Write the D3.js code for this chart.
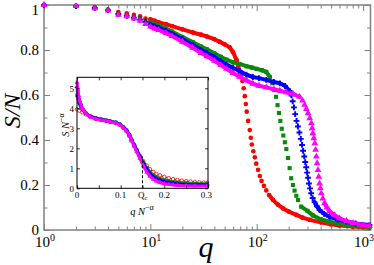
<!DOCTYPE html>
<html>
<head>
<meta charset="utf-8">
<script src="https://cdn.jsdelivr.net/npm/d3@7"></script>
<style>
body { margin: 0; background: #fff; }
svg { display: block; font-family: "Liberation Serif", "DejaVu Serif", serif; }
</style>
</head>
<body>
<div class="chart"></div>
<script>
// main panel: S/N against q, one series per system size  [q, S/N]
var redPts = [[1,1.0],[2,0.996],[3,0.99],[4,0.98],[5,0.969],[6,0.963],[7,0.956],[8,0.95],[9,0.94],[10,0.936],[11,0.93],[12,0.923],[14,0.915],[16,0.906],[20,0.892],[25,0.878],[30,0.868],[34,0.86],[40,0.848],[45,0.836],[50,0.825],[55.7,0.812],[60,0.79],[64.5,0.756],[67,0.73],[69,0.705],[71,0.685],[73.3,0.662],[75.5,0.63],[77.3,0.595],[79,0.56],[80.5,0.526],[83,0.485],[86,0.444],[88,0.41],[90,0.38],[93,0.35],[96,0.323],[99,0.295],[103,0.267],[107,0.24],[111,0.218],[117,0.196],[123,0.176],[131,0.155],[142,0.134],[158,0.113],[177,0.096],[200,0.082],[236,0.067],[270,0.055],[316,0.045],[400,0.034],[500,0.025],[600,0.02],[800,0.015],[1000,0.012],[1150,0.01]];
var greenPts = [[1,1.0],[2,0.995],[3,0.988],[4,0.978],[5,0.962],[6,0.955],[7,0.947],[8,0.94],[9,0.93],[10,0.922],[11,0.915],[12,0.908],[14,0.895],[16,0.882],[20,0.858],[25,0.835],[30,0.815],[34,0.803],[40,0.785],[46,0.77],[52,0.757],[60,0.745],[69,0.738],[80,0.728],[90,0.722],[100,0.716],[112,0.71],[123,0.703],[133,0.68],[140,0.652],[146,0.622],[152,0.592],[157,0.555],[162,0.52],[167,0.485],[172,0.45],[178,0.42],[184,0.39],[190,0.36],[197,0.32],[204,0.275],[211,0.23],[219,0.2],[227,0.175],[236,0.152],[245,0.133],[262,0.104],[300,0.085],[337,0.065],[400,0.048],[484,0.037],[600,0.028],[700,0.022],[900,0.017],[1150,0.014]];
var bluePts = [[1,1.0],[2,0.995],[3,0.987],[4,0.977],[5,0.96],[6,0.952],[7,0.943],[8,0.935],[9,0.925],[10,0.913],[11,0.906],[12,0.898],[14,0.885],[16,0.872],[20,0.848],[25,0.822],[30,0.8],[34,0.787],[40,0.768],[46,0.75],[52,0.735],[60,0.72],[69,0.707],[80,0.69],[92,0.68],[105,0.675],[123,0.667],[145,0.658],[165,0.652],[185,0.64],[204,0.618],[212,0.598],[218,0.572],[224,0.545],[230,0.515],[237,0.485],[244,0.46],[252,0.433],[260,0.405],[267,0.378],[273,0.352],[280,0.327],[286,0.302],[292,0.279],[298,0.255],[304,0.232],[310,0.207],[317,0.185],[325,0.163],[336,0.142],[350,0.124],[368,0.106],[390,0.089],[430,0.072],[484,0.058],[580,0.046],[697,0.037],[850,0.029],[1150,0.022]];
var magentaPts = [[1,1.0],[2,0.995],[3,0.985],[4,0.975],[5,0.956],[6,0.95],[7,0.94],[8,0.93],[9,0.915],[10,0.904],[11,0.895],[12,0.889],[14,0.875],[16,0.862],[20,0.837],[25,0.81],[30,0.787],[34,0.772],[40,0.752],[46,0.733],[52,0.716],[60,0.698],[69,0.681],[80,0.665],[92,0.65],[105,0.641],[123,0.634],[145,0.626],[165,0.619],[190,0.612],[220,0.605],[253,0.592],[270,0.575],[282,0.556],[293,0.538],[304,0.519],[315,0.497],[327,0.474],[332,0.452],[337,0.43],[344,0.408],[352,0.385],[358,0.356],[364,0.326],[370,0.297],[377,0.267],[383,0.237],[390,0.207],[397,0.185],[405,0.163],[418,0.14],[435,0.119],[458,0.1],[484,0.083],[540,0.066],[600,0.052],[700,0.04],[805,0.031],[1000,0.022],[1150,0.018]];

// q ranges where the markers stand apart (steep drop)
var redSparse = [73, 125];
var greenSparse = [136, 250];
var blueSparse = [205, 340];
var magentaSparse = [268, 430];

// inset: scaled curves  [q N^-a, S N^-a]
var insetRed = [[0,3.95],[0.005,3.88],[0.012,3.8],[0.02,3.7],[0.03,3.58],[0.043,3.47],[0.055,3.41],[0.066,3.37],[0.076,3.32],[0.089,3.26],[0.098,3.17],[0.106,3.03],[0.114,2.85],[0.12,2.62],[0.125,2.38],[0.131,2.12],[0.137,1.86],[0.144,1.6],[0.152,1.36],[0.16,1.14],[0.167,0.96],[0.175,0.82],[0.182,0.72],[0.19,0.65],[0.2,0.57],[0.21,0.51],[0.22,0.46],[0.23,0.42],[0.24,0.39],[0.25,0.36],[0.26,0.34],[0.27,0.32],[0.28,0.3],[0.29,0.29],[0.298,0.28]];
var insetGreen = [[0,4.65],[0.004,4.3],[0.01,4.0],[0.02,3.76],[0.03,3.62],[0.043,3.52],[0.055,3.46],[0.066,3.41],[0.076,3.36],[0.089,3.3],[0.098,3.21],[0.106,3.07],[0.114,2.9],[0.12,2.68],[0.125,2.44],[0.131,2.18],[0.137,1.92],[0.144,1.62],[0.152,1.3],[0.16,1.02],[0.167,0.82],[0.175,0.66],[0.182,0.56],[0.19,0.48],[0.2,0.42],[0.21,0.37],[0.22,0.33],[0.23,0.3],[0.25,0.26],[0.27,0.24],[0.298,0.22]];
var insetBlue = [[0,5.05],[0.003,4.6],[0.008,4.2],[0.015,3.9],[0.022,3.72],[0.03,3.6],[0.043,3.5],[0.055,3.44],[0.066,3.39],[0.076,3.34],[0.089,3.28],[0.098,3.19],[0.106,3.05],[0.114,2.88],[0.12,2.66],[0.125,2.42],[0.131,2.16],[0.137,1.9],[0.144,1.58],[0.152,1.24],[0.16,0.95],[0.167,0.73],[0.175,0.57],[0.182,0.47],[0.19,0.39],[0.2,0.33],[0.21,0.28],[0.22,0.25],[0.23,0.22],[0.25,0.19],[0.27,0.18],[0.298,0.17]];
var insetMagenta = [[0,5.3],[0.002,4.9],[0.006,4.4],[0.012,4.02],[0.02,3.76],[0.03,3.58],[0.043,3.47],[0.055,3.41],[0.066,3.37],[0.076,3.32],[0.089,3.26],[0.098,3.17],[0.106,3.02],[0.114,2.85],[0.12,2.63],[0.125,2.38],[0.131,2.1],[0.137,1.82],[0.144,1.5],[0.152,1.12],[0.16,0.8],[0.167,0.6],[0.175,0.45],[0.182,0.36],[0.19,0.29],[0.2,0.23],[0.21,0.2],[0.22,0.17],[0.23,0.15],[0.25,0.13],[0.27,0.12],[0.298,0.12]];
var qc = 0.15;
var qcHeight = 1.6;

// ticks
var xMajor = [1, 10, 100, 1000];
var xExp = ["0", "1", "2", "3"];
var yMajor = [0, 0.2, 0.4, 0.6, 0.8, 1];
var yMinor = [0.1, 0.3, 0.5, 0.7, 0.9];
var yLabels = ["0", "0.2", "0.4", "0.6", "0.8", "1"];
var ixMajor = [0, 0.1, 0.2, 0.3];
var ixMinor = [0.05, 0.15, 0.25];
var ixLabels = ["0", "0.1", "0.2", "0.3"];
var iyTicks = [0, 1, 2, 3, 4, 5];

var width = 374;
var height = 265;
var grey = "#808080";

var svg = d3.select(".chart")
.append("svg")
.attr("width", width)
.attr("height", height);

var x = d3.scaleLog().domain([1, 1175]).range([44, 370.5]);
var y = d3.scaleLinear().domain([0, 1]).range([230, 5]);

var xMinor = x.ticks().filter(function(d) { return xMajor.indexOf(d) < 0; });

function ticks(axis, tx, ty, vals, len, color) {
  var g = svg.append("g")
  .attr("transform", "translate(" + tx + "," + ty + ")")
  .attr("color", color)
  .call(axis.tickValues(vals).tickSize(-len).tickFormat(""));
  g.select(".domain").remove();
  g.selectAll("line").attr("stroke-width", 1);
}

ticks(d3.axisBottom(x), 0, 230, xMajor, 6, grey);
ticks(d3.axisBottom(x), 0, 230, xMinor, 3.5, grey);
ticks(d3.axisTop(x), 0, 5, xMajor, 6, grey);
ticks(d3.axisTop(x), 0, 5, xMinor, 3.5, grey);
ticks(d3.axisLeft(y), 44, 0, yMajor, 6, grey);
ticks(d3.axisLeft(y), 44, 0, yMinor, 3.5, grey);
ticks(d3.axisRight(y), 370.5, 0, yMajor, 6, grey);
ticks(d3.axisRight(y), 370.5, 0, yMinor, 3.5, grey);

svg.append("rect")
.attr("x", 44).attr("y", 5)
.attr("width", 326.5).attr("height", 225)
.attr("fill", "none")
.attr("stroke", grey)
.attr("stroke-width", 1.5);

// tick labels
var xl = svg.append("g").selectAll("text")
.data(xMajor)
.enter().append("text")
.attr("x", function(d) { return x(d) + 1; })
.attr("y", 247)
.attr("text-anchor", "middle")
.style("font-size", "15px");
xl.append("tspan").text("10");
xl.append("tspan")
.attr("dy", -6)
.style("font-size", "10px")
.text(function(d, i) { return xExp[i]; });

svg.append("g").selectAll("text")
.data(yMajor)
.enter().append("text")
.attr("x", 39)
.attr("y", function(d) { return d === 1 ? y(d) + 10 : y(d) + 4.5; })
.attr("text-anchor", "end")
.style("font-size", "15px")
.text(function(d, i) { return yLabels[i]; });

svg.append("text")
.attr("x", 206).attr("y", 257)
.attr("text-anchor", "middle")
.style("font-size", "30px")
.style("font-style", "italic")
.text("q");

svg.append("text")
.attr("transform", "translate(20,111) rotate(-90)")
.attr("text-anchor", "middle")
.style("font-size", "24px")
.style("font-style", "italic")
.text("S/N");

// main series
var shapes = {
  circle: d3.symbol().type(d3.symbolCircle).size(17),
  square: d3.symbol().type(d3.symbolSquare).size(17),
  cross: d3.symbol().type(d3.symbolCross).size(19),
  triangle: d3.symbol().type(d3.symbolTriangle).size(20)
};

function series(pts, sparse, color, shape) {
  var segs = [];
  for (var i = 1; i < pts.length; i++) {
    var a = pts[i - 1], b = pts[i];
    if (a[0] < 10) continue;
    if (b[0] > sparse[0] && a[0] < sparse[1]) continue;
    segs.push([a, b]);
  }
  var g = svg.append("g");
  g.selectAll("line")
  .data(segs)
  .enter().append("line")
  .attr("x1", function(d) { return x(d[0][0]); })
  .attr("y1", function(d) { return y(d[0][1]); })
  .attr("x2", function(d) { return x(d[1][0]); })
  .attr("y2", function(d) { return y(d[1][1]); })
  .attr("stroke", color)
  .attr("stroke-width", 4)
  .attr("stroke-linecap", "round");
  g.selectAll("path")
  .data(pts)
  .enter().append("path")
  .attr("d", shapes[shape])
  .attr("transform", function(d) { return "translate(" + x(d[0]) + "," + y(d[1]) + ")"; })
  .attr("fill", color);
}

series(redPts, redSparse, "#ff0000", "circle");
series(greenPts, greenSparse, "#0a8a0a", "square");
series(bluePts, blueSparse, "#0000ff", "cross");
series(magentaPts, magentaSparse, "#ff00ff", "triangle");

// inset
var ix = d3.scaleLinear().domain([0, 0.3]).range([77, 208]);
var iy = d3.scaleLinear().domain([0, 5.55]).range([188.3, 77.3]);

svg.append("rect")
.attr("x", 77).attr("y", 77.3)
.attr("width", 131).attr("height", 111)
.attr("fill", "#fff");

var line = d3.line()
.x(function(d) { return ix(d[0]); })
.y(function(d) { return iy(d[1]); })
.curve(d3.curveMonotoneX);

function insetSeries(pts, color, shape, hollow) {
  var g = svg.append("g");
  g.append("path")
  .datum(pts)
  .attr("d", line)
  .attr("fill", "none")
  .attr("stroke", color)
  .attr("stroke-width", hollow ? 1.2 : 3);
  g.selectAll(".m")
  .data(pts)
  .enter().append("path")
  .attr("d", d3.symbol().type(shape).size(hollow ? 9 : 11))
  .attr("transform", function(d) { return "translate(" + ix(d[0]) + "," + iy(d[1]) + ")"; })
  .attr("fill", hollow ? "#fff" : color)
  .attr("stroke", hollow ? color : "none")
  .attr("stroke-width", 0.8);
}

insetSeries(insetRed, "#ff0000", d3.symbolCircle, true);
insetSeries(insetGreen, "#0a8a0a", d3.symbolSquare, false);
insetSeries(insetBlue, "#0000ff", d3.symbolCross, false);
insetSeries(insetMagenta, "#ff00ff", d3.symbolTriangle, false);

svg.append("line")
.attr("x1", ix(qc)).attr("x2", ix(qc))
.attr("y1", iy(0)).attr("y2", iy(qcHeight))
.attr("stroke", "#000")
.attr("stroke-width", 1)
.attr("stroke-dasharray", "3,2");

function iticks(axis, tx, ty, vals, len) {
  var g = svg.append("g")
  .attr("transform", "translate(" + tx + "," + ty + ")")
  .attr("color", "#000")
  .call(axis.tickValues(vals).tickSize(-len).tickFormat(""));
  g.select(".domain").remove();
  g.selectAll("line").attr("stroke-width", 0.8);
}

iticks(d3.axisBottom(ix), 0, 188.3, ixMajor.concat(ixMinor), 3);
iticks(d3.axisTop(ix), 0, 77.3, ixMajor.concat(ixMinor), 3);
iticks(d3.axisLeft(iy), 77, 0, iyTicks, 3);
iticks(d3.axisRight(iy), 208, 0, iyTicks, 3);

svg.append("rect")
.attr("x", 77).attr("y", 77.3)
.attr("width", 131).attr("height", 111)
.attr("fill", "none")
.attr("stroke", "#000")
.attr("stroke-width", 1);

svg.append("g").selectAll("text")
.data(ixMajor)
.enter().append("text")
.attr("x", function(d, i) { return i === 3 ? ix(d) + 4 : ix(d); })
.attr("y", 197.5)
.attr("text-anchor", function(d, i) { return i === 3 ? "end" : "middle"; })
.style("font-size", "9px")
.text(function(d, i) { return ixLabels[i]; });

svg.append("g").selectAll("text")
.data(iyTicks)
.enter().append("text")
.attr("x", 74)
.attr("y", function(d) { return iy(d) + 3.2; })
.attr("text-anchor", "end")
.style("font-size", "9px")
.text(function(d) { return d; });

var qcl = svg.append("text")
.attr("x", ix(qc) - 4.5)
.attr("y", 197.5)
.style("font-size", "9px");
qcl.append("tspan").text("Q");
qcl.append("tspan").attr("dy", 2).style("font-size", "6.5px").text("c");

var ixl = svg.append("text")
.attr("x", 142).attr("y", 215)
.attr("text-anchor", "middle")
.style("font-size", "10.5px");
ixl.append("tspan").style("font-style", "italic").text("q N");
ixl.append("tspan").attr("dy", -5).style("font-size", "8px").text("\u2212\u03b1");

var iyl = svg.append("text")
.attr("transform", "translate(68.5,125) rotate(-90)")
.attr("text-anchor", "middle")
.style("font-size", "10.5px");
iyl.append("tspan").style("font-style", "italic").text("S N");
iyl.append("tspan").attr("dy", -5).style("font-size", "8px").text("\u2212\u03b1");
</script>
</body>
</html>
